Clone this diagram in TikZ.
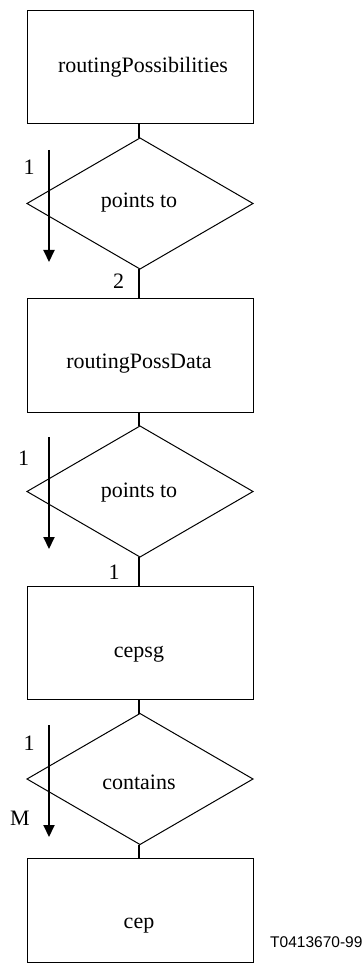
\documentclass[tikz,border=0pt]{standalone}
\usepackage{fontspec}
\setmainfont{Liberation Serif}
\newfontfamily\labfont{Liberation Sans}
\usetikzlibrary{shapes.geometric,arrows.meta}
\tikzset{
  entity/.style={draw,line width=1pt,rectangle,minimum width=226pt,inner sep=0pt,outer sep=0pt},
  relation/.style={draw,line width=1pt,diamond,minimum width=226pt,minimum height=131pt,inner sep=0pt,outer sep=0pt},
  txt/.style={anchor=base,inner sep=0pt,font=\fontsize{22}{26}\selectfont},
  card/.style={anchor=base,inner sep=0pt,font=\fontsize{22}{26}\selectfont},
  link/.style={line width=2pt},
  dirarrow/.style={line width=2pt,-{Triangle[width=11pt,length=12pt]}}
}
\begin{document}
\begin{tikzpicture}[x=1pt,y=-1pt]
\useasboundingbox (0,0) rectangle (363,973);
% boxes
\node[entity,minimum height=113pt] (b1) at (140,67.5) {};
\node[entity,minimum height=114pt] (b2) at (140,355) {};
\node[entity,minimum height=113pt] (b3) at (140,642.5) {};
\node[entity,minimum height=104pt] (b4) at (140,910) {};
\node[txt] (t1) at (143,72.7) {routingPossibilities};
\node[txt] (t2) at (139,368) {routingPossData};
\node[txt] (t3) at (139,657) {cepsg};
\node[txt] (t4) at (139,928) {cep};
% diamonds
\node[relation] (d1) at (140,203.5) {};
\node[relation] (d2) at (140,491.5) {};
\node[relation] (d3) at (140,779) {};
\node[txt] (r1) at (139,208) {points to};
\node[txt] (r2) at (139,497) {points to};
\node[txt] (r3) at (139,789) {contains};
% connectors
\draw[link] (b1.south -| 139,0) -- (d1.north -| 139,0);
\draw[link] (d1.south -| 139,0) -- (b2.north -| 139,0);
\draw[link] (b2.south -| 139,0) -- (d2.north -| 139,0);
\draw[link] (d2.south -| 139,0) -- (b3.north -| 139,0);
\draw[link] (b3.south -| 139,0) -- (d3.north -| 139,0);
\draw[link] (d3.south -| 139,0) -- (b4.north -| 139,0);
% direction arrows
\coordinate (a1s) at (49,150);
\coordinate (a1e) at (49,262);
\coordinate (a2s) at (49,437);
\coordinate (a2e) at (49,549);
\coordinate (a3s) at (49,725);
\coordinate (a3e) at (49,837);
\draw[dirarrow] (a1s) -- (a1e);
\draw[dirarrow] (a2s) -- (a2e);
\draw[dirarrow] (a3s) -- (a3e);
% cardinalities
\node[card] (c1) at (29,175) {1};
\node[card] (c2) at (118.5,288) {2};
\node[card] (c3) at (23.5,465) {1};
\node[card] (c4) at (114,579) {1};
\node[card] (c5) at (29,750) {1};
\node[card] (c6) at (20,825) {M};
% figure id
\node[anchor=base west,inner sep=0pt,font=\labfont\fontsize{15.5}{18}\selectfont] (fid) at (270,947) {T0413670-99};
\end{tikzpicture}
\end{document}
